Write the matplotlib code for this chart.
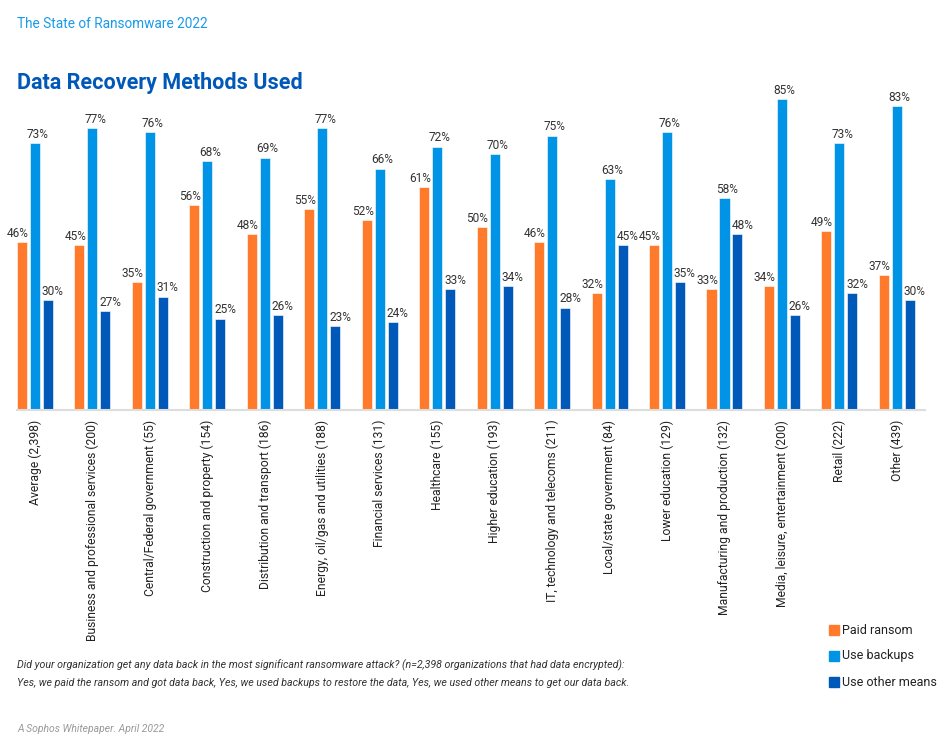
import numpy as np
import matplotlib.pyplot as plt

plt.rcParams['font.family'] = ['Roboto', 'DejaVu Sans']

categories = ['Average (2,398)', 'Business and professional services (200)',
              'Central/Federal government (55)', 'Construction and property (154)',
              'Distribution and transport (186)', 'Energy, oil/gas and utilities (188)',
              'Financial services (131)', 'Healthcare (155)', 'Higher education (193)',
              'IT, technology and telecoms (211)', 'Local/state government (84)',
              'Lower education (129)', 'Manufacturing and production (132)',
              'Media, leisure, entertainment (200)', 'Retail (222)', 'Other (439)']
paid_ransom = [46, 45, 35, 56, 48, 55, 52, 61, 50, 46, 32, 45, 33, 34, 49, 37]
use_backups = [73, 77, 76, 68, 69, 77, 66, 72, 70, 75, 63, 76, 58, 85, 73, 83]
other_means = [30, 27, 31, 25, 26, 23, 24, 33, 34, 28, 45, 35, 48, 26, 32, 30]

series = ['Paid ransom', 'Use backups', 'Use other means']
colors = ['#FF7A2A', '#0093E6', '#0058B9']

fig = plt.figure(figsize=(9.4, 7.38), dpi=100)
ax = fig.add_axes([17/940, 1 - 410/738, (925-17)/940, (410-88)/738])

x = np.arange(len(categories))
w = 0.175
off = 0.226
label_dx = [-3, 2, 3.5]
for k, (vals, c) in enumerate(zip([paid_ransom, use_backups, other_means], colors)):
    xs = x + (k - 1) * off
    ax.bar(xs, vals, width=w, color=c, edgecolor='white', linewidth=0.4, label=series[k])
    for xi, v in zip(xs, vals):
        ax.annotate(f'{v}%', (xi, v), xytext=(label_dx[k], 1.5), textcoords='offset points',
                    ha='center', va='bottom', fontsize=8.6, color='#333333', clip_on=False)

ax.set_xlim(-0.313, 15.49)
ax.set_ylim(0, 88)
for s in ['top', 'right', 'left']:
    ax.spines[s].set_visible(False)
ax.spines['bottom'].set_color('#dddddd')
ax.spines['bottom'].set_linewidth(1.5)
ax.set_yticks([])
ax.set_xticks(x)
ax.set_xticklabels(categories, rotation=90, fontsize=8.7, color='#222222')
ax.tick_params(axis='x', length=0, pad=7)

fig.text(17/940, 1 - 24/738, 'The State of Ransomware 2022', fontsize=9.8,
         color='#1A9BE8', va='center')
fig.text(17/940, 1 - 83/738, 'Data Recovery Methods Used', fontsize=15.5,
         fontweight='bold', color='#0058B9', va='center')

fig.text(17/940, 1 - 665/738,
         'Did your organization get any data back in the most significant ransomware attack? '
         '(n=2,398 organizations that had data encrypted):',
         fontsize=7.7, style='italic', color='#333333', va='center')
fig.text(17/940, 1 - 683/738,
         'Yes, we paid the ransom and got data back, Yes, we used backups to restore the data, '
         'Yes, we used other means to get our data back.',
         fontsize=7.7, style='italic', color='#333333', va='center')
fig.text(17/940, 1 - 729/738, 'A Sophos Whitepaper. April 2022', fontsize=7.5,
         style='italic', color='#999999', va='center')

for k, (name, c) in enumerate(zip(series, colors)):
    yy = 1 - (630 + 26 * k)/738
    fig.patches.append(plt.Rectangle((829/940, yy - 5/738), 10/940, 10/738,
                                     transform=fig.transFigure, color=c))
    fig.text(842/940, yy, name, fontsize=9, color='#222222', va='center')

fig.savefig('out.png', dpi=100)
